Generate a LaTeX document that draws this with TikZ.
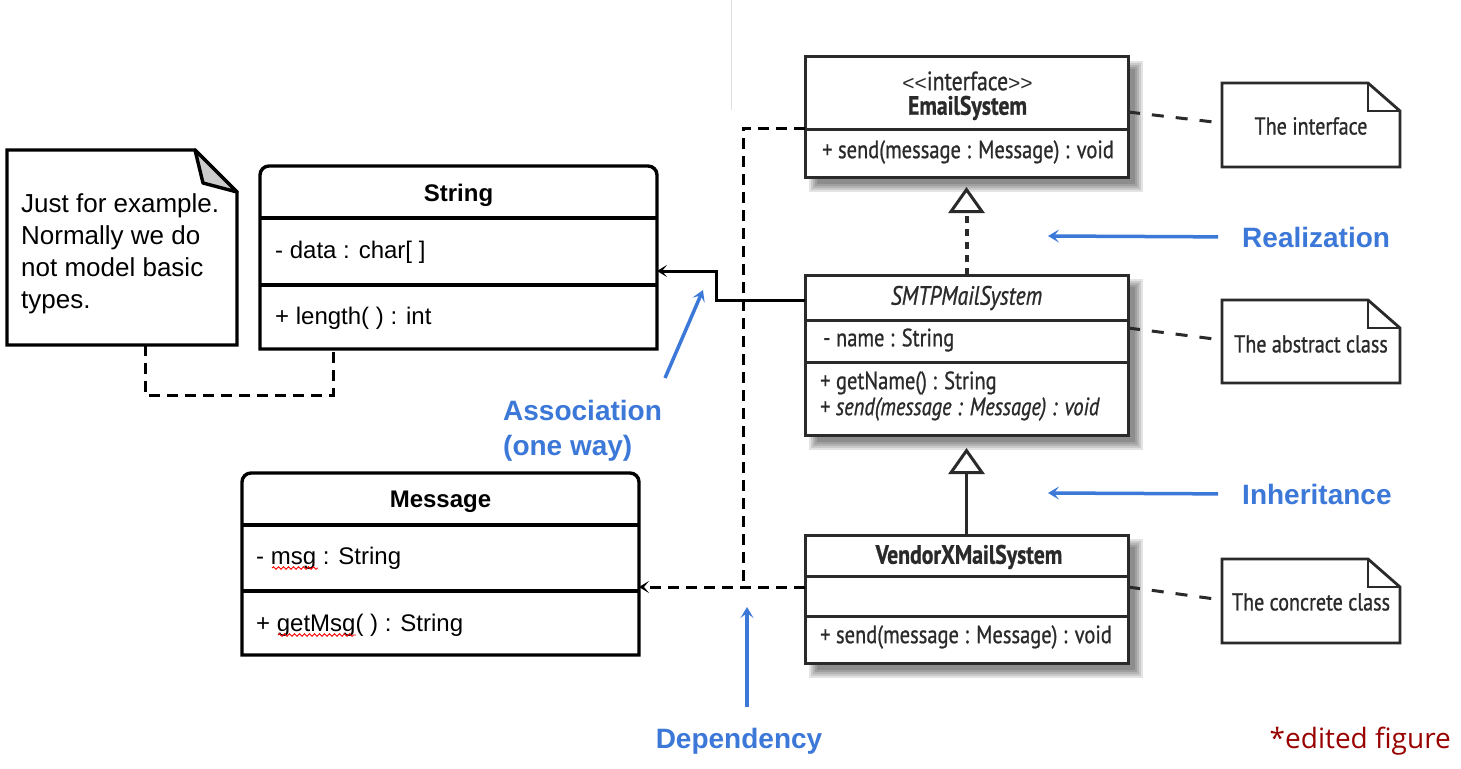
\documentclass[tikz,border=0pt]{standalone}
\usepackage{fontspec}
\setmainfont{Liberation Sans}
\newfontfamily\condfont[FakeStretch=0.82,FakeBold=0.8]{PT Sans}
\newfontfamily\edfont{Open Sans}
\usetikzlibrary{arrows.meta,decorations.pathmorphing,calc}
\definecolor{lblblue}{HTML}{3C78D8}
\definecolor{edred}{HTML}{990000}
\definecolor{umlgray}{HTML}{2A2A2A}
\newcommand\fuzzyshadow[1]{%
  \foreach \k in {0,2,4,6,8}{%
    \fill[black,opacity=0.11] ([shift={(12-\k,12-\k)}]#1.north west) rectangle ([shift={(7+\k,7+\k)}]#1.south east);}}
\newcommand\dognote[1]{%
  \draw[notebox] (#1.south west) -- (#1.north west) -- ([xshift=-32pt]#1.north east) -- ([yshift=-28pt]#1.north east) -- (#1.south east) -- cycle;
  \draw[notebox] ([xshift=-32pt]#1.north east) -- ([xshift=-32pt,yshift=-28pt]#1.north east) -- ([yshift=-28pt]#1.north east);}
\newcommand\angl[1]{{\rmfamily\fontsize{21}{26}\selectfont #1}}
\begin{document}
\begin{tikzpicture}[x=1pt,y=-1pt,
  area/.style={inner sep=0pt,outer sep=0pt},
  lthick/.style={line width=3.4pt,black},
  rthick/.style={line width=3pt,umlgray},
  notebox/.style={line width=2.8pt,umlgray,line join=miter},
  ltxt/.style={inner sep=0pt,font=\fontsize{24}{29}\selectfont},
  rtxt/.style={inner sep=0pt,text=umlgray,font=\condfont\fontsize{25}{30}\selectfont},
  rtitle/.style={inner sep=0pt,text=umlgray,font=\condfont\fontsize{26.5}{30}\selectfont},
  ntxt/.style={inner sep=0pt,text=umlgray,font=\condfont\fontsize{24.5}{29}\selectfont},
  blbl/.style={inner sep=0pt,text=lblblue,font=\bfseries\fontsize{28}{35}\selectfont},
  bluearr/.style={line width=3.5pt,lblblue,-{Stealth[length=11pt,width=13pt,inset=5pt]}},
  dep/.style={line width=3pt,black,dash pattern=on 11pt off 7pt},
  barb/.style={-{Stealth[length=10pt,width=12pt,inset=5pt]}},
  assoc/.style={line width=3pt,black,barb},
  realize/.style={line width=4pt,umlgray,dash pattern=on 7pt off 6pt,
     -{Triangle[open,length=26pt,width=36pt,line width=3pt]}},
  inherit/.style={line width=3.2pt,umlgray,-{Triangle[open,length=26pt,width=36pt,line width=3pt]}},
  notedash/.style={line width=3pt,umlgray,dash pattern=on 12pt off 12pt},
  squig/.style={red,line width=0.9pt,decorate,decoration={snake,amplitude=1.3pt,segment length=5pt}}
]
\useasboundingbox (0,0) rectangle (1461,768);
\fill[white] (0,0) rectangle (1461,768);
\draw[gray!25,line width=1pt] (731,0) -- (731,110);

% ---------- areas ----------
\node[area,minimum width=230pt,minimum height=195pt] (exnote) at (122,247.5) {};
\node[area,minimum width=397pt,minimum height=183pt] (string) at (458.5,257.5) {};
\node[area,minimum width=397pt,minimum height=182pt] (message) at (440.5,564) {};
\node[area,minimum width=323pt,minimum height=120pt] (email) at (966.5,117) {};
\node[area,minimum width=323pt,minimum height=160pt] (smtp) at (966.5,355) {};
\node[area,minimum width=323pt,minimum height=128pt] (vendor) at (966.5,599) {};
\node[area,minimum width=178pt,minimum height=84pt] (note1) at (1311,125) {};
\node[area,minimum width=178pt,minimum height=83pt] (note2) at (1311,341.5) {};
\node[area,minimum width=178pt,minimum height=84pt] (note3) at (1311,601) {};

% ---------- left note ----------
\draw[lthick,fill=white,line join=miter] (exnote.south west) -- (exnote.north west) -- ([xshift=-42pt]exnote.north east) -- ([yshift=-42pt]exnote.north east) -- (exnote.south east) -- cycle;
\draw[lthick,fill=black!20,line join=round] ([xshift=-42pt]exnote.north east) -- ([xshift=-34pt,yshift=-33pt]exnote.north east) -- ([yshift=-42pt]exnote.north east) -- cycle;
\node[inner sep=0pt,anchor=north west,align=left,font=\fontsize{26}{32}\selectfont] (exnotetxt) at (21,193)
  {Just for example.\\Normally we do\\not model basic\\types.};

% ---------- String ----------
\draw[lthick,fill=white] (string.south west) [rounded corners=9pt] -- (string.north west) -- (string.north east) [sharp corners] -- (string.south east) -- cycle;
\draw[lthick] ([yshift=-52pt]string.north west) -- ([yshift=-52pt]string.north east);
\draw[lthick] ([yshift=-119pt]string.north west) -- ([yshift=-119pt]string.north east);
\node[ltxt,font=\bfseries\fontsize{24}{29}\selectfont] (stringname) at (458.5,195) {String};
\node[ltxt,anchor=west] (stringattr) at (275,252) {- data : char[ ]};
\node[ltxt,anchor=west] (stringop) at (275,318) {+ length( ) : int};

% ---------- Message ----------
\draw[lthick,fill=white] (message.south west) [rounded corners=9pt] -- (message.north west) -- (message.north east) [sharp corners] -- (message.south east) -- cycle;
\draw[lthick] ([yshift=-52pt]message.north west) -- ([yshift=-52pt]message.north east);
\draw[lthick] ([yshift=-118pt]message.north west) -- ([yshift=-118pt]message.north east);
\node[ltxt,font=\bfseries\fontsize{24}{29}\selectfont] (messagename) at (440.5,502) {Message};
\node[ltxt,anchor=west] (messageattr) at (256,558) {- msg : String};
\node[ltxt,anchor=west] (messageop) at (256,625) {+ getMsg( ) : String};
\draw[squig] (272,568) -- (318,568);
\draw[squig] (278,635) -- (356,635);

% ---------- right classes ----------
\fuzzyshadow{email}
\fuzzyshadow{smtp}
\fuzzyshadow{vendor}
\draw[rthick,fill=white] (email.north west) rectangle (email.south east);
\draw[rthick] ([yshift=-72pt]email.north west) -- ([yshift=-72pt]email.north east);
\node[rtitle] (emailstereo) at (967.5,81) {\angl{<{}<}interface\angl{>{}>}};
\node[rtitle,font=\condfont\bfseries\fontsize{26.5}{30}\selectfont] (emailname) at (967.5,108) {EmailSystem};
\node[rtxt,anchor=west] (emailop) at (822,152) {+ send(message : Message) : void};

\draw[rthick,fill=white] (smtp.north west) rectangle (smtp.south east);
\draw[rthick] ([yshift=-45pt]smtp.north west) -- ([yshift=-45pt]smtp.north east);
\draw[rthick] ([yshift=-87pt]smtp.north west) -- ([yshift=-87pt]smtp.north east);
\node[rtitle,font=\condfont\itshape\fontsize{26.5}{30}\selectfont] (smtpname) at (966.5,298) {SMTPMailSystem};
\node[rtxt,anchor=west] (smtpattr) at (823,340) {- name : String};
\node[rtxt,anchor=west] (smtpop1) at (820,383) {+ getName() : String};
\node[rtxt,anchor=west] (smtpop2) at (820,409) {+ \textit{send(message : Message) : void}};

\draw[rthick,fill=white] (vendor.north west) rectangle (vendor.south east);
\draw[rthick] ([yshift=-41pt]vendor.north west) -- ([yshift=-41pt]vendor.north east);
\draw[rthick] ([yshift=-81pt]vendor.north west) -- ([yshift=-81pt]vendor.north east);
\node[rtitle,font=\condfont\bfseries\fontsize{26.5}{30}\selectfont] (vendorname) at (969,557) {VendorXMailSystem};
\node[rtxt,anchor=west] (vendorop) at (820,637) {+ send(message : Message) : void};

% ---------- right notes ----------
\dognote{note1}
\dognote{note2}
\dognote{note3}
\node[ntxt] (note1txt) at (1311,126) {The interface};
\node[ntxt] (note2txt) at (1311,344) {The abstract class};
\node[ntxt] (note3txt) at (1311,602) {The concrete class};
\draw[notedash] ([yshift=5pt]email.east) -- ([yshift=2pt]note1.west);
\draw[notedash] ([yshift=27pt]smtp.east) -- ([yshift=1.5pt]note2.west);
\draw[notedash] ([yshift=12pt]vendor.east) -- ([yshift=1pt]note3.west);

% ---------- connectors ----------
\coordinate (jtop) at (743,128);
\coordinate (jbot) at (743,587);
\draw[dep] ([xshift=23pt]exnote.south) -- ++(0,50) -| ([xshift=-125.5pt]string.south);
\draw[dep] ([yshift=-11pt]email.west) -- (jtop) -- (jbot);
\draw[dep] ([yshift=-12pt]smtp.west) -- (smtp.west |- 0,367);
\draw[dep,barb] ([yshift=12pt]vendor.west) -- ([yshift=-23pt]message.east);
\draw[assoc] ([yshift=55pt]smtp.west) -- ++(-89,0) |- ([yshift=-13.5pt]string.east);
\draw[realize] (smtp.north) -- ([yshift=-10pt]email.south);
\draw[inherit] (vendor.north) -- ([yshift=-13pt]smtp.south);

% ---------- blue labels ----------
\node[blbl,anchor=west] (realiz) at (1242,237) {Realization};
\node[blbl,anchor=west] (inher) at (1242,494) {Inheritance};
\node[blbl,anchor=north west,align=left] (assoclbl) at (503,400) {Association\\(one way)};
\node[blbl] (deplbl) at (739,741) {Dependency};
\coordinate (realtip) at (1048,236);
\coordinate (inhertip) at (1048,493);
\coordinate (assoctail) at (665,378);
\coordinate (assoctip) at (703,290);
\coordinate (deptail) at (747,707);
\coordinate (deptip) at (747,607);
\draw[bluearr,shorten <=24pt] (realiz.west) -- (realtip);
\draw[bluearr,shorten <=24pt] (inher.west) -- (inhertip);
\draw[bluearr] (assoctail) -- (assoctip);
\draw[bluearr] (deptail) -- (deptip);

\node[inner sep=0pt,text=edred,font=\edfont\fontsize{28}{34}\selectfont,anchor=east] (edited) at (1451,741) {*edited figure};
\end{tikzpicture}
\end{document}
